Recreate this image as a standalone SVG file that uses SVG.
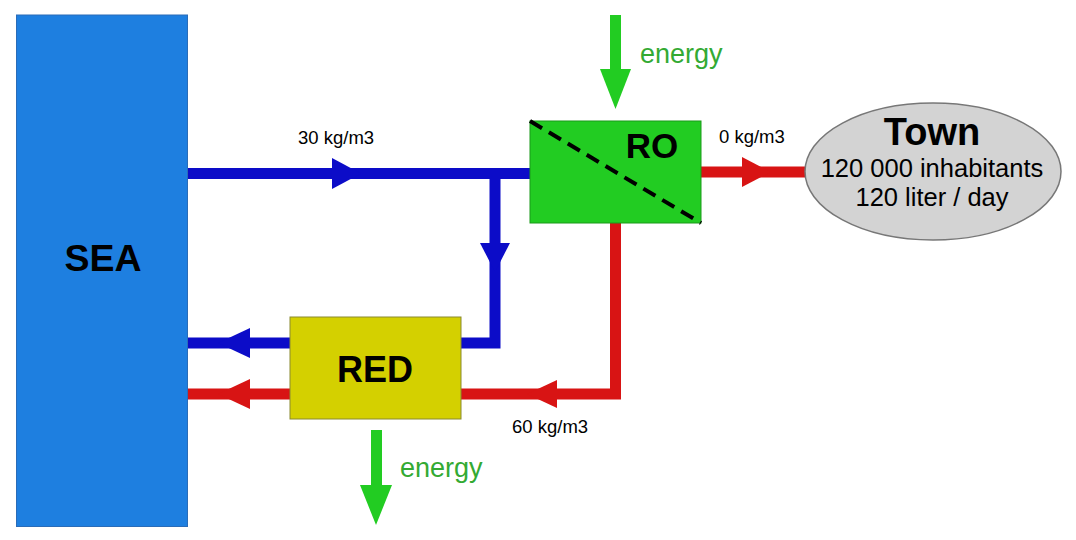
<svg xmlns="http://www.w3.org/2000/svg" width="1076" height="540" viewBox="0 0 1076 540">
<style>
.lbl{font-family:"Liberation Sans",Arial,sans-serif;fill:#000}
.bold{font-weight:bold}
.en{font-family:"Liberation Sans",Arial,sans-serif;fill:#33aa33;font-size:27px}
.blue{stroke:#0c0cc8;stroke-width:11;fill:none}
.red{stroke:#d81414;stroke-width:11;fill:none}
.hb{fill:#0c0cc8}
.hr{fill:#d81414}
.hg{fill:#22cc22}
</style>
<rect width="1076" height="540" fill="#fff"/>
<g id="connectors">
  <!-- blue main feed -->
  <path class="blue" d="M188 173.5 H530"/>
  <polygon class="hb" points="332,158 361,173.5 332,189"/>
  <!-- blue branch to RED -->
  <path class="blue" d="M495 173.5 V343 H461"/>
  <polygon class="hb" points="480,243 510,243 495,272"/>
  <!-- blue RED to SEA -->
  <path class="blue" d="M290 343 H188"/>
  <polygon class="hb" points="250,328 218,343 250,358"/>
  <!-- red RO to Town -->
  <path class="red" d="M701 172 H806"/>
  <polygon class="hr" points="742,157 771,172 742,187"/>
  <!-- red RO brine to RED -->
  <path class="red" d="M615.5 223 V394 H461"/>
  <polygon class="hr" points="557,380 527,394 557,408"/>
  <!-- red RED to SEA -->
  <path class="red" d="M290 394 H188"/>
  <polygon class="hr" points="250,379 218,394 250,409"/>
  <!-- energy in -->
  <rect class="hg" x="610" y="15" width="11" height="56"/>
  <polygon class="hg" points="600,69 631,69 615.5,109"/>
  <!-- energy out -->
  <rect class="hg" x="371" y="430" width="11" height="57"/>
  <polygon class="hg" points="360,485 392,485 376,525"/>
  <text class="en" x="640" y="63">energy</text>
  <text class="en" x="400" y="477">energy</text>
  <text class="lbl" x="298" y="144" font-size="18.5">30 kg/m3</text>
  <text class="lbl" x="719" y="143" font-size="18.5">0 kg/m3</text>
  <text class="lbl" x="512" y="433" font-size="18.5">60 kg/m3</text>
</g>
<g id="sea">
  <rect x="16.5" y="15" width="171" height="511.5" fill="#1e7fe0" stroke="#2a6cb8" stroke-width="1"/>
  <text class="lbl bold" x="103" y="271" font-size="37.5" text-anchor="middle">SEA</text>
</g>
<g id="ro">
  <rect x="530" y="121" width="171" height="102" fill="#22cc22" stroke="#1a9a1a" stroke-width="1"/>
  <line x1="530" y1="121" x2="701" y2="223" stroke="#000" stroke-width="4" stroke-dasharray="14,8"/>
  <text class="lbl bold" x="652" y="158" font-size="35" text-anchor="middle">RO</text>
</g>
<g id="red">
  <rect x="290" y="317" width="171" height="102" fill="#d4d000" stroke="#8a8a30" stroke-width="1"/>
  <text class="lbl bold" x="375" y="382" font-size="36" text-anchor="middle">RED</text>
</g>
<g id="town">
  <ellipse cx="933" cy="171.5" rx="128" ry="68.5" fill="#d3d3d3" stroke="#777" stroke-width="1.5"/>
  <text class="lbl bold" x="932" y="145" font-size="38" text-anchor="middle">Town</text>
  <text class="lbl" x="932" y="177" font-size="25.5" text-anchor="middle">120 000 inhabitants</text>
  <text class="lbl" x="932" y="206" font-size="25.5" text-anchor="middle">120 liter / day</text>
</g>
</svg>
